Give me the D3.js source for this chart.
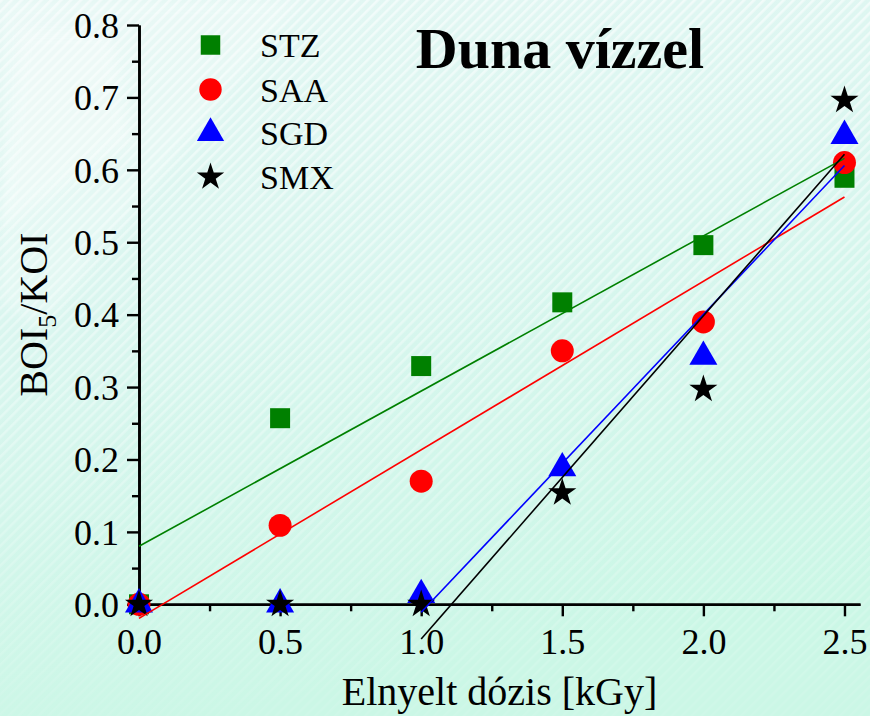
<!DOCTYPE html>
<html>
<head>
<meta charset="utf-8">
<script src="https://cdn.jsdelivr.net/npm/d3@7"></script>
<style>
  html, body { margin: 0; padding: 0; background: #d4f5ea; }
  svg { display: block; }
</style>
</head>
<body>
<script>
// Absorbed dose levels (kGy) and BOI5/KOI ratios for each compound
const doses = [0, 0.5, 1.0, 1.5, 2.0, 2.5];
const seriesNames = ["STZ", "SAA", "SGD", "SMX"];
const stzValues = [0, 0.257, 0.329, 0.417, 0.496, 0.589];
const saaValues = [0, 0.109, 0.170, 0.350, 0.390, 0.610];
const sgdValues = [0, 0, 0.013, 0.188, 0.342, 0.647];
const smxValues = [0, 0, 0, 0.154, 0.297, 0.696];
// first dose included in each linear fit
const fitFrom = [0, 0, 1.0, 1.0];
const xTickValues = [0, 0.5, 1.0, 1.5, 2.0, 2.5];
const yTickValues = [0, 0.1, 0.2, 0.3, 0.4, 0.5, 0.6, 0.7, 0.8];
const titleText = "Duna vízzel";
const xTitleText = "Elnyelt dózis [kGy]";

const W = 870, H = 716;
const serif = "'Liberation Serif', 'Times New Roman', Times, serif";

const series = [
  { name: seriesNames[0], values: stzValues, color: "#008000", symbol: d3.symbolSquare, size: 400, from: fitFrom[0] },
  { name: seriesNames[1], values: saaValues, color: "#ff0000", symbol: d3.symbolCircle, size: 415, from: fitFrom[1] },
  { name: seriesNames[2], values: sgdValues, color: "#0000ff", symbol: d3.symbolTriangle, size: 340, from: fitFrom[2] },
  { name: seriesNames[3], values: smxValues, color: "#000000", symbol: d3.symbolStar, size: 245, from: fitFrom[3] }
];

const x = d3.scaleLinear().domain([0, 2.555]).range([139, 860]);
const y = d3.scaleLinear().domain([0, 0.8]).range([604.3, 25]);

const svg = d3.select("body").append("svg")
  .attr("width", W).attr("height", H);

// ---- background: mint gradient with light diagonal stripes ----
const defs = svg.append("defs");
const bg = defs.append("linearGradient").attr("id", "bg")
  .attr("x1", 0).attr("y1", 0).attr("x2", 0.25).attr("y2", 1);
bg.append("stop").attr("offset", "0%").attr("stop-color", "#e4f7f4");
bg.append("stop").attr("offset", "45%").attr("stop-color", "#d9f6ef");
bg.append("stop").attr("offset", "100%").attr("stop-color", "#cbf7e6");

const stripes = defs.append("pattern").attr("id", "stripes")
  .attr("patternUnits", "userSpaceOnUse")
  .attr("width", 7).attr("height", 7)
  .attr("patternTransform", "rotate(45)");
stripes.append("rect").attr("width", 2.6).attr("height", 7).attr("fill", "#ffffff");

const fade = defs.append("linearGradient").attr("id", "fade")
  .attr("x1", 0).attr("y1", 0).attr("x2", 0).attr("y2", 1);
fade.append("stop").attr("offset", "0%").attr("stop-color", "#fff").attr("stop-opacity", 0.55);
fade.append("stop").attr("offset", "55%").attr("stop-color", "#fff").attr("stop-opacity", 0.35);
fade.append("stop").attr("offset", "100%").attr("stop-color", "#fff").attr("stop-opacity", 0.08);
const mask = defs.append("mask").attr("id", "stripeMask");
mask.append("rect").attr("width", W).attr("height", H).attr("fill", "url(#fade)");

const soft = defs.append("filter").attr("id", "soft");
soft.append("feGaussianBlur").attr("stdDeviation", 6);

svg.append("rect").attr("width", W).attr("height", H).attr("fill", "url(#bg)");
svg.append("rect").attr("width", W).attr("height", H)
  .attr("fill", "url(#stripes)").attr("mask", "url(#stripeMask)");
// faint light sheen in the upper-left corner
svg.append("path")
  .attr("d", "M0,0 L300,0 L40,330 L0,300 Z")
  .attr("fill", "#ffffff").attr("opacity", 0.22).attr("filter", "url(#soft)");
svg.append("path")
  .attr("d", "M20,30 L110,30 L130,140 L0,230 Z")
  .attr("fill", "#ffffff").attr("opacity", 0.25).attr("filter", "url(#soft)");

// ---- axes ----
function styleAxis(g) {
  g.select(".domain").attr("stroke", "#000").attr("stroke-width", 2.6);
  g.selectAll(".tick line").attr("stroke", "#000").attr("stroke-width", 2.4);
  g.selectAll(".tick text")
    .attr("fill", "#000")
    .style("font-family", serif).style("font-size", "36px");
}

const yMinor = d3.range(0, 0.8001, 0.05).filter((v, i) => i % 2 === 1);
const xMinor = [0.25, 0.75, 1.25, 1.75, 2.25];

svg.append("g").attr("transform", `translate(${x(0)},0)`)
  .call(d3.axisLeft(y).tickValues(yMinor).tickSize(7).tickSizeOuter(0).tickFormat(""))
  .call(styleAxis);
svg.append("g").attr("transform", `translate(0,${y(0)})`)
  .call(d3.axisBottom(x).tickValues(xMinor).tickSize(7).tickSizeOuter(0).tickFormat(""))
  .call(styleAxis);

svg.append("g").attr("transform", `translate(${x(0)},0)`)
  .call(d3.axisLeft(y).tickValues(yTickValues).tickSize(12).tickSizeOuter(0)
    .tickPadding(8).tickFormat(d3.format(".1f")))
  .call(styleAxis)
  .call(g => g.selectAll(".tick text").attr("dy", "0.34em"));
svg.append("g").attr("transform", `translate(0,${y(0)})`)
  .call(d3.axisBottom(x).tickValues(xTickValues).tickSize(12).tickSizeOuter(0)
    .tickPadding(12).tickFormat(d3.format(".1f")))
  .call(styleAxis);

// axis titles
svg.append("text")
  .attr("x", (x.range()[0] + x.range()[1]) / 2).attr("y", 705)
  .attr("text-anchor", "middle")
  .style("font-family", serif).style("font-size", "40px")
  .text(xTitleText);

const yTitle = svg.append("text")
  .attr("transform", `translate(47,${(y.range()[0] + y.range()[1]) / 2}) rotate(-90)`)
  .attr("text-anchor", "middle")
  .style("font-family", serif).style("font-size", "40px");
yTitle.append("tspan").text("BOI");
yTitle.append("tspan").attr("dy", 9).style("font-size", "26px").text("5");
yTitle.append("tspan").attr("dy", -9).text("/KOI");

// chart title
svg.append("text")
  .attr("x", 560).attr("y", 68)
  .attr("text-anchor", "middle")
  .style("font-family", serif).style("font-size", "58px").style("font-weight", "bold")
  .text(titleText);

// ---- markers ----
const marks = svg.append("g");
series.forEach(s => {
  marks.append("g").selectAll("path")
    .data(doses.map((d, i) => [d, s.values[i]]))
    .join("path")
    .attr("transform", d => `translate(${x(d[0])},${y(d[1])})`)
    .attr("d", d3.symbol(s.symbol, s.size))
    .attr("fill", s.color);
});

// ---- least-squares fit lines ----
function linearFit(xs, ys) {
  const n = xs.length;
  const mx = d3.mean(xs), my = d3.mean(ys);
  let sxy = 0, sxx = 0;
  for (let i = 0; i < n; i++) {
    sxy += (xs[i] - mx) * (ys[i] - my);
    sxx += (xs[i] - mx) * (xs[i] - mx);
  }
  const b = sxy / sxx;
  return { a: my - b * mx, b };
}

const fits = svg.append("g");
series.forEach(s => {
  const idx = doses.map((d, i) => i).filter(i => doses[i] >= s.from);
  const xs = idx.map(i => doses[i]);
  const ys = idx.map(i => s.values[i]);
  const f = linearFit(xs, ys);
  const x0 = d3.min(xs), x1 = d3.max(xs);
  fits.append("line")
    .attr("x1", x(x0)).attr("y1", y(f.a + f.b * x0))
    .attr("x2", x(x1)).attr("y2", y(f.a + f.b * x1))
    .attr("stroke", s.color).attr("stroke-width", 1.6);
});

// ---- legend ----
const legend = svg.append("g");
const legendY = [45, 89.5, 133, 177];
series.forEach((s, i) => {
  legend.append("path")
    .attr("transform", `translate(210.5,${legendY[i]})`)
    .attr("d", d3.symbol(s.symbol, s.size * 0.95))
    .attr("fill", s.color);
  legend.append("text")
    .attr("x", 260).attr("y", legendY[i] + 12)
    .style("font-family", serif).style("font-size", "34px")
    .text(s.name);
});
</script>
</body>
</html>
